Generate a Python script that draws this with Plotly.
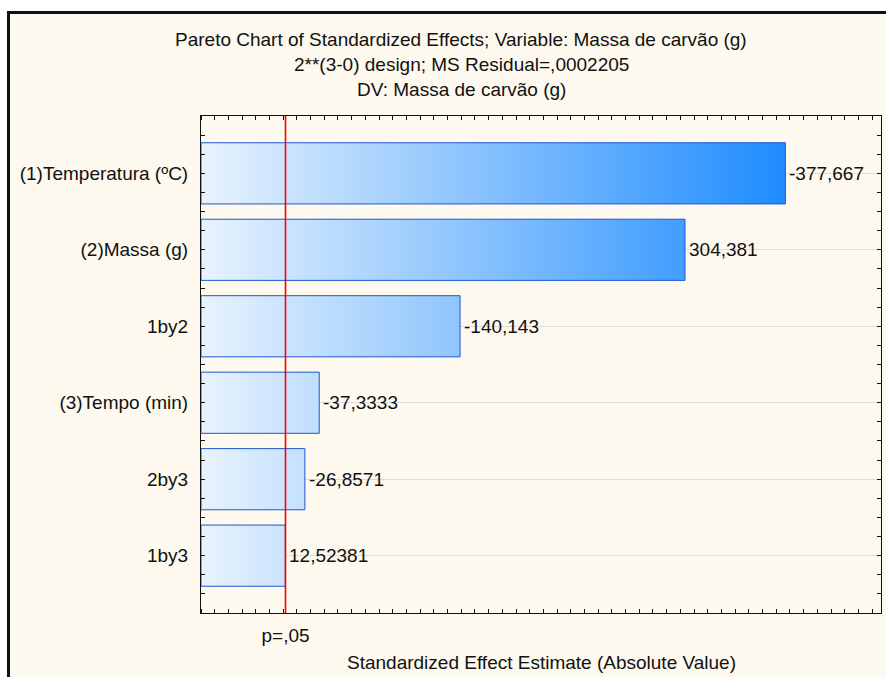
import plotly.graph_objects as go

# Pareto chart of standardized effects (2**(3-0) design)
factors = ["(1)Temperatura (ºC)", "(2)Massa (g)", "1by2", "(3)Tempo (min)", "2by3", "1by3"]
effects = [-377.667, 304.381, -140.143, -37.3333, -26.8571, 12.52381]
critical_t = 12.7062          # p = .05
x_range = [-49.0, 447.5]
y_range = [5.75, -0.75]
y_pos = list(range(len(factors)))

FONT = "Liberation Sans, Arial, sans-serif"
FS = 19
CREAM = "#FDF9EE"
half = 0.4

fig = go.Figure()

# gradient-filled bars (absolute value), all starting from the left edge of the axis
for yi, eff in zip(y_pos, effects):
    v = abs(eff)
    fig.add_trace(go.Scatter(
        x=[x_range[0], v, v, x_range[0], x_range[0]],
        y=[yi - half, yi - half, yi + half, yi + half, yi - half],
        mode="lines", fill="toself",
        line=dict(color="#1F55D6", width=1),
        fillgradient=dict(type="horizontal",
                          colorscale=[[0, "#E8F3FD"], [1, "#1E8CFF"]],
                          start=x_range[0], stop=max(abs(e) for e in effects)),
        hoverinfo="skip", showlegend=False,
    ))

# critical value line (p = .05)
fig.add_trace(go.Scatter(
    x=[critical_t, critical_t], y=y_range, mode="lines",
    line=dict(color="#FF0000", width=1.6), hoverinfo="skip", showlegend=False,
))

# value labels at the bar ends
for yi, eff in zip(y_pos, effects):
    fig.add_annotation(x=abs(eff), y=yi, xref="x", yref="y",
                       text=str(eff).replace(".", ","), showarrow=False,
                       xanchor="left", yanchor="middle", xshift=2,
                       font=dict(family=FONT, size=FS, color="#111111"))

# cream frame with black border
fig.add_shape(type="rect", xref="paper", yref="paper",
              x0=-0.2831, x1=1.2, y0=-0.3, y1=1.2082,
              fillcolor=CREAM, line=dict(color="#111111", width=3), layer="below")

titles = ["Pareto Chart of Standardized Effects; Variable: Massa de carvão (g)",
          "2**(3-0) design; MS Residual=,0002205",
          "DV: Massa de carvão (g)"]
for k, t in enumerate(titles):
    fig.add_annotation(text=t, xref="paper", yref="paper", x=0.383, y=1.153 - k * 0.0497,
                       xanchor="center", yanchor="middle", showarrow=False,
                       font=dict(family=FONT, size=FS, color="#111111"))

fig.add_annotation(text="Standardized Effect Estimate (Absolute Value)",
                   xref="paper", yref="paper", x=0.5, y=-0.1006,
                   xanchor="center", yanchor="middle", showarrow=False,
                   font=dict(family=FONT, size=FS, color="#111111"))

fig.update_layout(
    width=886, height=677,
    margin=dict(l=201, r=5, t=116, b=64, pad=0),
    paper_bgcolor="white", plot_bgcolor="white",
    font=dict(family=FONT, size=FS, color="#111111"),
    showlegend=False,
    xaxis=dict(range=x_range, showgrid=False, zeroline=False,
               showline=True, linecolor="#111111", linewidth=1, mirror="allticks",
               tickmode="array", tickvals=[critical_t], ticktext=["p=,05"],
               ticks="", ticklabelstandoff=5,
               minor=dict(tick0=-39, dtick=10, ticks="inside", ticklen=4,
                          tickcolor="#111111", showgrid=False)),
    yaxis=dict(range=y_range, showgrid=True, gridcolor="#DCDCDC", gridwidth=1,
               zeroline=False, showline=True, linecolor="#111111", linewidth=1,
               mirror="allticks", tickmode="array", tickvals=y_pos, ticktext=factors,
               ticks="inside", ticklen=4, tickcolor="#111111",
               ticklabelstandoff=8,
               minor=dict(tick0=0, dtick=0.25, ticks="inside", ticklen=4,
                          tickcolor="#111111", showgrid=False)),
)

fig.write_html("out.html")
